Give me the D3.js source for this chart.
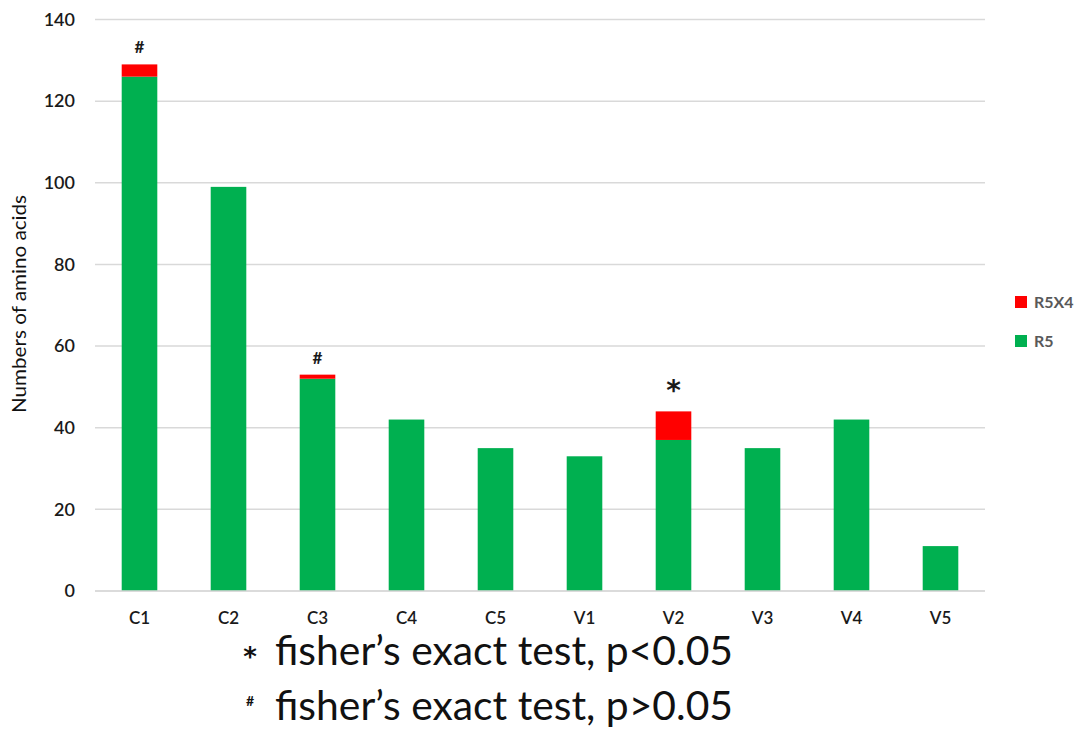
<!DOCTYPE html>
<html><head><meta charset="utf-8">
<script src="https://cdn.jsdelivr.net/npm/d3@7"></script>
<style>body{margin:0;background:#fff;} svg{display:block;}</style>
</head><body>
<svg id="c" width="1086" height="729"></svg>
<script>
const categories = ["C1","C2","C3","C4","C5","V1","V2","V3","V4","V5"];
const r5 = [126, 99, 52, 42, 35, 33, 37, 35, 42, 11];
const r5x4 = [3, 0, 1, 0, 0, 0, 7, 0, 0, 0];
const marks = ["#", "", "#", "", "", "", "*", "", "", ""];
const yTicks = [0, 20, 40, 60, 80, 100, 120, 140];
const seriesNames = ["R5X4", "R5"];
const colors = {R5: "#00b050", R5X4: "#ff0000"};
const footnotes = [["*", "fisher’s exact test, p<0.05"], ["#", "fisher’s exact test, p>0.05"]];

const svg = d3.select("#c");
const font = "Lato, 'Open Sans', sans-serif";
const starFont = "'DejaVu Sans', sans-serif";
const x = d3.scaleBand().domain(categories).range([95, 985]).paddingInner(0.6).paddingOuter(0.3);
const y = d3.scaleLinear().domain([0, 140]).range([591, 19.5]);

// gridlines
svg.append("g").selectAll("line").data(yTicks).join("line")
  .attr("x1", 95).attr("x2", 985)
  .attr("y1", d => y(d)).attr("y2", d => y(d))
  .attr("stroke", "#d9d9d9").attr("stroke-width", 1.5);

// y axis labels
const yAxis = svg.append("g").attr("transform", "translate(75,0)")
  .call(d3.axisLeft(y).tickValues(yTicks).tickSize(0).tickPadding(0));
yAxis.select(".domain").remove();
yAxis.selectAll("text").attr("font-family", font).attr("font-size", 18).attr("font-weight", 600).attr("fill", "#1a1a1a");

// x axis labels
const xAxis = svg.append("g").attr("transform", `translate(0,${y(0)})`)
  .call(d3.axisBottom(x).tickSize(0).tickPadding(21));
xAxis.select(".domain").remove();
xAxis.selectAll("text").attr("font-family", font).attr("font-size", 17).attr("font-weight", 600).attr("fill", "#1a1a1a");

// stacked bars
const data = categories.map((c, i) => ({cat: c, R5: r5[i], R5X4: r5x4[i]}));
const stack = d3.stack().keys(["R5", "R5X4"])(data);
svg.append("g").selectAll("g").data(stack).join("g")
  .attr("fill", d => colors[d.key])
  .selectAll("rect").data(d => d).join("rect")
  .attr("x", d => x(d.data.cat))
  .attr("width", x.bandwidth())
  .attr("y", d => y(d[1]))
  .attr("height", d => y(d[0]) - y(d[1]));

// x axis line
svg.append("line").attr("x1", 95).attr("x2", 985).attr("y1", y(0)).attr("y2", y(0))
  .attr("stroke", "#d9d9d9").attr("stroke-width", 1.5);

// significance marks
svg.append("g").selectAll("text").data(categories.map((c, i) => ({c, m: marks[i], t: r5[i] + r5x4[i]})).filter(d => d.m))
  .join("text")
  .attr("x", d => x(d.c) + x.bandwidth() / 2)
  .attr("y", d => y(d.t) - 11)
  .attr("text-anchor", "middle")
  .attr("font-family", d => d.m === "*" ? starFont : font)
  .attr("font-size", d => d.m === "*" ? 28 : 17)
  .attr("font-weight", 700)
  .attr("fill", "#1a1a1a")
  .text(d => d.m);

// y title
svg.append("text")
  .attr("transform", "translate(26,304) rotate(-90)")
  .attr("text-anchor", "middle")
  .attr("font-family", font).attr("font-size", 19).attr("fill", "#111")
  .attr("textLength", 218).attr("lengthAdjust", "spacingAndGlyphs")
  .text("Numbers of amino acids");

// legend
const leg = svg.append("g").selectAll("g").data(seriesNames).join("g")
  .attr("transform", (d, i) => `translate(1015,${302 + i * 39})`);
leg.append("rect").attr("x", 0).attr("y", -6).attr("width", 12).attr("height", 12).attr("fill", d => colors[d]);
leg.append("text").attr("x", 19).attr("y", 0).attr("dy", "0.35em")
  .attr("font-family", font).attr("font-size", 16).attr("font-weight", 700).attr("fill", "#595959")
  .text(d => d);

// footnotes
const fn = svg.append("g").selectAll("g").data(footnotes).join("g")
  .attr("transform", (d, i) => `translate(0,${665 + i * 55})`);
fn.append("text").attr("x", 250).attr("y", d => d[0] === "*" ? 1 : -14)
  .attr("text-anchor", "middle")
  .attr("font-family", d => d[0] === "*" ? starFont : font).attr("font-weight", 700)
  .attr("font-size", d => d[0] === "*" ? 26 : 14).attr("fill", "#111")
  .text(d => d[0]);
fn.append("text").attr("x", 275).attr("y", 0)
  .attr("font-family", font).attr("font-size", 40).attr("fill", "#111")
  .attr("textLength", 458).attr("lengthAdjust", "spacingAndGlyphs")
  .text(d => d[1]);
</script>
</body></html>
